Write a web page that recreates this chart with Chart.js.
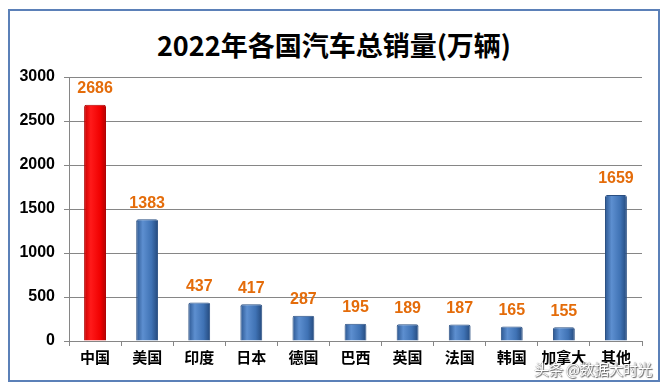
<!DOCTYPE html>
<html>
<head>
<meta charset="utf-8">
<script src="https://cdn.jsdelivr.net/npm/chart.js@4"></script>
<style>
    html, body { margin: 0; padding: 0; background: #fff; }
    #wrap { position: relative; width: 668px; height: 388px; overflow: hidden; }
    #frame { position: absolute; left: 8px; top: 9px; width: 648px; height: 369px; border: 2px solid #5b80b8; }
    #title { position: absolute; left: 0; top: 25px; width: 668px; text-align: center;
             font: bold 27px "Noto Sans CJK SC", "Liberation Sans", sans-serif; color: #000; }
    #mark { position: absolute; left: 534px; top: 358px; font: 15px "Noto Sans CJK SC", sans-serif;
            color: #fff; text-shadow: 0 0 1px #555, 1px 1px 1px #666; letter-spacing: -0.5px; }
    canvas { position: absolute; left: 0; top: 0; }
</style>
</head>
<body>
<div id="wrap">
    <div id="frame"></div>
    <div id="title">2022年各国汽车总销量(万辆)</div>
    <canvas id="salesChart" width="668" height="388"></canvas>
    <div id="mark">头条 @数据大时光</div>
</div>
<script>
// ================= DATA =================
const countries = ['中国', '美国', '印度', '日本', '德国', '巴西', '英国', '法国', '韩国', '加拿大', '其他'];
const sales = [2686, 1383, 437, 417, 287, 195, 189, 187, 165, 155, 1659];
const yTicks = [0, 500, 1000, 1500, 2000, 2500, 3000];

const labelFont = '"Liberation Sans", Arial, sans-serif';
const BAR_PCT = 0.42;

// cylinder-ish gradient per bar
function barFill(ctx) {
    const red = ctx.dataIndex === 0;
    const chart = ctx.chart;
    const xs = chart.scales && chart.scales.x;
    if (!xs || !chart.chartArea) return red ? '#ff0000' : '#4a7ebb';
    const cx = xs.getPixelForValue(ctx.dataIndex);
    const half = (xs.width / countries.length) * BAR_PCT / 2;
    if (!Number.isFinite(cx) || !Number.isFinite(half)) return red ? '#ff0000' : '#4a7ebb';
    const g = chart.ctx.createLinearGradient(cx - half, 0, cx + half, 0);
    if (red) {
        g.addColorStop(0, '#c80000');
        g.addColorStop(0.3, '#ff1a1a');
        g.addColorStop(0.75, '#f00000');
        g.addColorStop(1, '#b00000');
    } else {
        g.addColorStop(0, '#2b5690');
        g.addColorStop(0.3, '#5d8fd0');
        g.addColorStop(0.7, '#3f72b4');
        g.addColorStop(1, '#24497c');
    }
    return g;
}

// value labels above bars
const valueLabels = {
    id: 'valueLabels',
    afterDatasetsDraw(chart) {
        const c = chart.ctx;
        c.save();
        c.font = 'bold 16px ' + labelFont;
        c.fillStyle = '#e46c0a';
        c.textAlign = 'center';
        c.textBaseline = 'bottom';
        chart.getDatasetMeta(0).data.forEach((bar, i) => {
            c.fillText(sales[i], bar.x, bar.y - 8);
        });
        c.restore();
    }
};

new Chart(document.getElementById('salesChart'), {
    type: 'bar',
    data: {
        labels: countries,
        datasets: [{
            data: sales,
            backgroundColor: barFill,
            borderColor: ctx => ctx.dataIndex === 0 ? '#b00000' : '#2a4f82',
            borderWidth: 1,
            borderRadius: 2,
            borderSkipped: 'bottom',
            barPercentage: BAR_PCT,
            categoryPercentage: 1
        }]
    },
    options: {
        responsive: false,
        animation: false,
        layout: { padding: { left: 0, top: 77, right: 26, bottom: 0 } },
        plugins: { legend: { display: false }, tooltip: { enabled: false } },
        scales: {
            x: {
                afterFit: s => { s.height = 47; },
                grid: { offset: true, drawOnChartArea: false, color: '#868686', tickLength: 5 },
                border: { color: '#868686' },
                ticks: { color: '#000', font: { family: '"Noto Sans CJK SC", sans-serif', size: 15, weight: 'bold' }, padding: 2 }
            },
            y: {
                min: 0,
                max: 3000,
                afterFit: s => { s.width = 69; },
                afterBuildTicks: s => { s.ticks = yTicks.map(v => ({ value: v })); },
                grid: { color: '#868686', tickLength: 5 },
                border: { color: '#868686' },
                ticks: {
                    color: '#000',
                    font: { family: labelFont, size: 16, weight: 'bold' },
                    padding: 9,
                    callback: v => String(v)
                }
            }
        }
    },
    plugins: [valueLabels]
});
</script>
</body>
</html>
